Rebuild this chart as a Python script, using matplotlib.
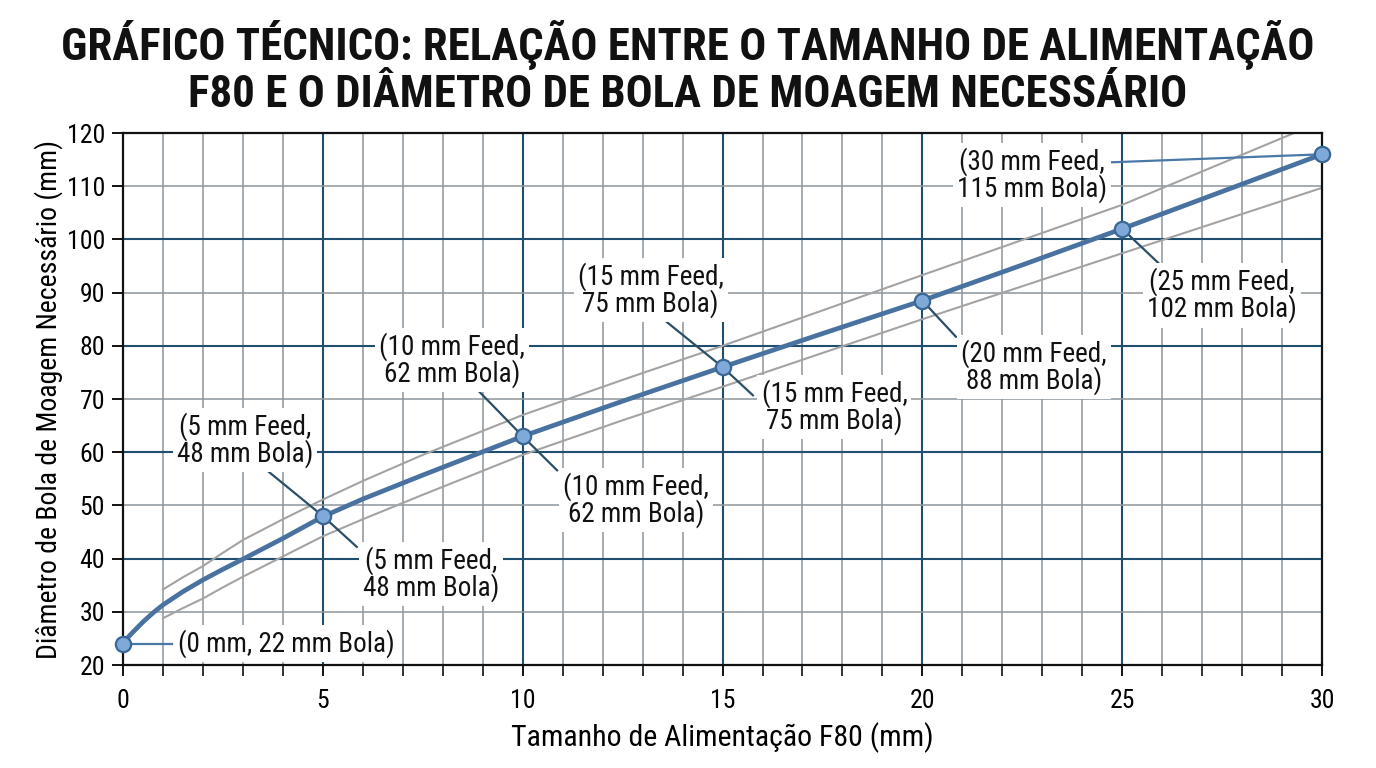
import matplotlib
matplotlib.use("Agg")
import matplotlib.pyplot as plt
from matplotlib.ticker import MultipleLocator

# ---------------- data ----------------
point_feed = [0, 5, 10, 15, 20, 25, 30]
point_ball = [24, 48, 63, 76, 88.5, 102, 116]

curve_feed = [0, 0.1, 0.25, 0.5, 0.75, 1, 1.5, 2, 2.5, 3, 4, 5, 6, 7.5, 10, 12.5, 15, 17.5, 20, 22.5, 25, 27.5, 30]
curve_ball = [24, 25.0, 26.2, 28.1, 29.8, 31.3, 33.8, 36.0, 38.0, 39.9, 43.8, 47.9, 51.2, 55.7, 63.0, 69.6, 76.0, 82.3, 88.5, 95.2, 102.0, 109.0, 116.0]

upper_feed = [1, 1.5, 2, 2.5, 3, 4, 5, 6, 7.5, 10, 12.5, 15, 20, 25, 29.3]
upper_ball = [34.2, 36.5, 38.6, 41.1, 43.5, 47.4, 51.1, 54.6, 59.5, 67.0, 73.6, 80.0, 93.3, 106.5, 120.0]
lower_feed = [1, 1.5, 2, 2.5, 3, 4, 5, 6, 7.5, 10, 12.5, 15, 20, 25, 30]
lower_ball = [28.8, 30.7, 32.5, 34.6, 36.6, 40.4, 44.2, 47.4, 52.0, 59.5, 66.0, 72.3, 85.0, 97.4, 109.7]

label_texts = [
    "(0 mm, 22 mm Bola)",
    "(5 mm Feed,\n48 mm Bola)", "(5 mm Feed,\n48 mm Bola)",
    "(10 mm Feed,\n62 mm Bola)", "(10 mm Feed,\n62 mm Bola)",
    "(15 mm Feed,\n75 mm Bola)", "(15 mm Feed,\n75 mm Bola)",
    "(20 mm Feed,\n88 mm Bola)",
    "(25 mm Feed,\n102 mm Bola)",
    "(30 mm Feed,\n115 mm Bola)",
]
label_point_index = [0, 1, 1, 2, 2, 3, 3, 4, 5, 6]

title = "GRÁFICO TÉCNICO: RELAÇÃO ENTRE O TAMANHO DE ALIMENTAÇÃO\nF80 E O DIÂMETRO DE BOLA DE MOAGEM NECESSÁRIO"
xlabel = "Tamanho de Alimentação F80 (mm)"
ylabel = "Diâmetro de Bola de Moagem Necessário (mm)"

# ---------------- layout (positions of labels / leader ends) ----------------
label_pos = [(1.38, 24), (3.05, 62.3), (7.7, 37.1), (8.23, 77.3), (12.83, 51.0),
             (13.2, 90.5), (17.8, 68.5), (22.8, 76.0), (27.5, 89.5), (22.75, 112.1)]
label_ha = ["left", "center", "center", "center", "center", "center", "center",
            "center", "center", "center"]
leader_end = [(1.23, 24), (3.6, 56.6), (5.85, 42.2), (8.6, 73.8), (10.86, 56.6),
              (13.6, 84.5), (15.76, 70.7), (20.84, 81.7), (25.9, 95.6), (24.74, 114.5)]
leader_color = ["#4a78a8", "#2b4f66", "#2b4f66", "#2b4f66", "#2b4f66", "#2b4f66",
                "#2b4f66", "#2b4f66", "#2b4f66", "#4a78a8"]

FONT = ["Roboto Condensed", "Roboto", "DejaVu Sans"]
plt.rcParams["font.family"] = FONT

fig = plt.figure(figsize=(13.76, 7.68), dpi=100)
ax = fig.add_axes([0.0894, 0.1341, 0.9608 - 0.0894, 0.8268 - 0.1341])

ax.set_xlim(0, 30)
ax.set_ylim(20, 120)

major_c = "#1f4e6e"
minor_c = "#8c969c"

# grid
for xv in range(1, 30):
    col = major_c if xv % 5 == 0 else minor_c
    lw = 1.5 if xv % 5 == 0 else 1.1
    ax.axvline(xv, color=col, lw=lw, zorder=0.5)
for yv in range(30, 120, 10):
    col = major_c if yv % 20 == 0 else minor_c
    lw = 1.5 if yv % 20 == 0 else 1.1
    ax.axhline(yv, color=col, lw=lw, zorder=0.5)

# envelope lines
ax.plot(upper_feed, upper_ball, color="#a3a3a3", lw=1.5, zorder=2)
ax.plot(lower_feed, lower_ball, color="#a3a3a3", lw=1.5, zorder=2)

# leader lines
for i, (idx, end) in enumerate(zip(label_point_index, leader_end)):
    ax.plot([point_feed[idx], end[0]], [point_ball[idx], end[1]],
            color=leader_color[i], lw=1.6, zorder=3, clip_on=False)

# main curve
ax.plot(curve_feed, curve_ball, color="#4a72a0", lw=3.4, zorder=4,
        solid_capstyle="round", solid_joinstyle="round")
ax.plot(point_feed, point_ball, "o", ms=11, mfc="#7ea9d8", mec="#3b6796", mew=1.6,
        zorder=5, clip_on=False)

# labels
for txt, pos, ha in zip(label_texts, label_pos, label_ha):
    ax.text(pos[0], pos[1], txt, ha=ha, va="center", fontsize=19.5, color="#111111",
            linespacing=0.95, zorder=6,
            bbox=dict(facecolor="white", edgecolor="none", pad=3))

# axes styling
for s in ax.spines.values():
    s.set_color("#111111")
    s.set_linewidth(1.6)
ax.xaxis.set_major_locator(MultipleLocator(5))
ax.xaxis.set_minor_locator(MultipleLocator(1))
ax.yaxis.set_major_locator(MultipleLocator(10))
ax.tick_params(axis="both", which="major", length=8, width=1.4, color="#111111",
               labelsize=18.5)
ax.tick_params(axis="x", which="major", pad=9)
ax.tick_params(axis="y", which="major", pad=5)
ax.tick_params(axis="x", which="minor", length=8, width=1.2, color="#111111")
ax.set_xlabel(xlabel, fontsize=21.5, labelpad=7)
ax.set_ylabel(ylabel, fontsize=20, labelpad=3)

fig.text(0.5, 0.912, title, ha="center", va="center", fontsize=32.3, fontweight="bold",
         linespacing=1.12, color="#111111")

fig.savefig("out.png", dpi=100, facecolor="white")
